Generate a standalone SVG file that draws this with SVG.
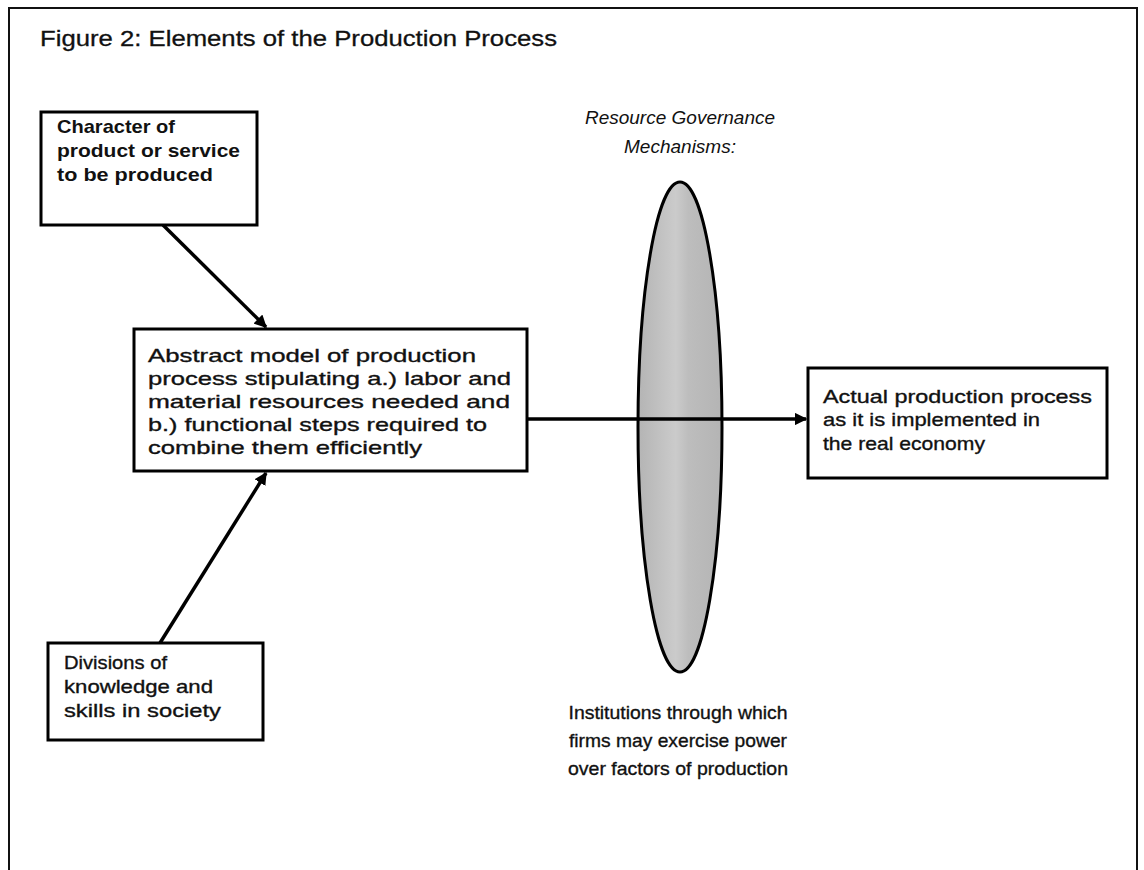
<svg xmlns="http://www.w3.org/2000/svg" width="1144" height="870" viewBox="0 0 1144 870">
  <defs>
    <style>
      .frame { fill: none; stroke: #111; stroke-width: 2; }
      .box { fill: #fff; stroke: #000; stroke-width: 3; }
      .lbl { font-family: "Liberation Sans", Arial, sans-serif; font-size: 19px; fill: #111; stroke: #111; stroke-width: 0.35; }
      .bold { font-weight: bold; stroke-width: 0; }
      .title { font-family: "Liberation Sans", Arial, sans-serif; font-size: 22px; fill: #111; stroke: #111; stroke-width: 0.3; }
      .ital { font-family: "Liberation Sans", Arial, sans-serif; font-size: 19px; font-style: italic; fill: #111; text-anchor: middle; }
      .mid { text-anchor: middle; }
      .conn { fill: none; stroke: #000; stroke-width: 3.5; }
    </style>
    <marker id="arrow" viewBox="0 0 10 10" refX="9" refY="5" markerWidth="3.6" markerHeight="3.6" orient="auto" markerUnits="strokeWidth">
      <path d="M0,0 L10,5 L0,10 z" fill="#000"/>
    </marker>
    <linearGradient id="lensFill" x1="0" y1="0" x2="1" y2="0">
      <stop offset="0" stop-color="#b4b4b4"/>
      <stop offset="0.45" stop-color="#cbcbcb"/>
      <stop offset="0.6" stop-color="#bdbdbd"/>
      <stop offset="1" stop-color="#b4b4b4"/>
    </linearGradient>
  </defs>

  <rect width="1144" height="870" fill="#fff"/>
  <!-- outer figure frame (open at the bottom) -->
  <path class="frame" d="M9,872 L9,8 L1137,8 L1137,872"/>

  <text class="title" x="40" y="46" textLength="517" lengthAdjust="spacingAndGlyphs">Figure 2: Elements of the Production Process</text>

  <!-- lens: resource governance mechanisms -->
  <g id="governance">
    <ellipse cx="680" cy="427" rx="42" ry="245" fill="url(#lensFill)" stroke="#000" stroke-width="3"/>
    <text class="ital" x="680" y="124">Resource Governance</text>
    <text class="ital" x="680" y="153">Mechanisms:</text>
  </g>

  <g id="connectors">
    <line class="conn" x1="163" y1="225" x2="266" y2="327" marker-end="url(#arrow)"/>
    <line class="conn" x1="160" y1="643" x2="266" y2="473" marker-end="url(#arrow)"/>
    <line class="conn" x1="527" y1="419" x2="806" y2="419" marker-end="url(#arrow)"/>
  </g>

  <g id="product">
    <rect class="box" x="41" y="112" width="216" height="113"/>
    <text class="lbl bold" font-size="17" x="57" y="133" textLength="118" lengthAdjust="spacingAndGlyphs">Character of</text>
    <text class="lbl bold" font-size="17" x="57" y="157" textLength="183" lengthAdjust="spacingAndGlyphs">product or service</text>
    <text class="lbl bold" font-size="17" x="57" y="181" textLength="156" lengthAdjust="spacingAndGlyphs">to be produced</text>
  </g>

  <g id="model">
    <rect class="box" x="134" y="329" width="393" height="142"/>
    <text class="lbl" x="148" y="362" textLength="328" lengthAdjust="spacingAndGlyphs">Abstract model of production</text>
    <text class="lbl" x="148" y="385" textLength="363" lengthAdjust="spacingAndGlyphs">process stipulating a.) labor and</text>
    <text class="lbl" x="148" y="408" textLength="362" lengthAdjust="spacingAndGlyphs">material resources needed and</text>
    <text class="lbl" x="148" y="431" textLength="339" lengthAdjust="spacingAndGlyphs">b.) functional steps required to</text>
    <text class="lbl" x="148" y="454" textLength="274" lengthAdjust="spacingAndGlyphs">combine them efficiently</text>
  </g>

  <g id="actual">
    <rect class="box" x="808" y="368" width="299" height="110"/>
    <text class="lbl" x="823" y="403" textLength="269" lengthAdjust="spacingAndGlyphs">Actual production process</text>
    <text class="lbl" x="823" y="426" textLength="217" lengthAdjust="spacingAndGlyphs">as it is implemented in</text>
    <text class="lbl" x="823" y="450" textLength="162" lengthAdjust="spacingAndGlyphs">the real economy</text>
  </g>

  <g id="knowledge">
    <rect class="box" x="48" y="643" width="215" height="97"/>
    <text class="lbl" font-size="18" x="64" y="669" textLength="103" lengthAdjust="spacingAndGlyphs">Divisions of</text>
    <text class="lbl" font-size="18" x="64" y="693" textLength="149" lengthAdjust="spacingAndGlyphs">knowledge and</text>
    <text class="lbl" font-size="18" x="64" y="717" textLength="157" lengthAdjust="spacingAndGlyphs">skills in society</text>
  </g>

  <g id="institutions">
    <text class="lbl mid" font-size="19" x="678" y="719" textLength="219" lengthAdjust="spacingAndGlyphs">Institutions through which</text>
    <text class="lbl mid" font-size="19" x="678" y="747" textLength="218" lengthAdjust="spacingAndGlyphs">firms may exercise power</text>
    <text class="lbl mid" font-size="19" x="678" y="775" textLength="220" lengthAdjust="spacingAndGlyphs">over factors of production</text>
  </g>
</svg>
